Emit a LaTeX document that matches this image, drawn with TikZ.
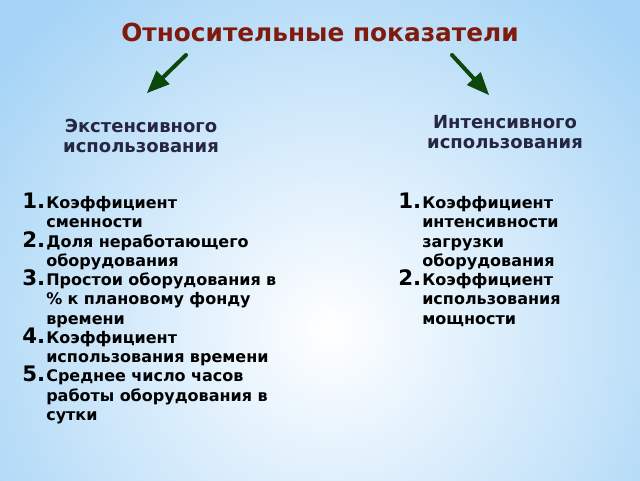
\documentclass[tikz,border=0pt]{standalone}
\usepackage{fontspec}
\setmainfont{DejaVu Sans}
\usetikzlibrary{arrows}
\definecolor{titlered}{RGB}{128,26,12}
\definecolor{headnavy}{RGB}{38,38,66}
\definecolor{arrowgreen}{RGB}{12,72,12}
\definecolor{skyblue}{RGB}{166,212,246}
\newcommand{\numfont}{\fontsize{16}{16}\selectfont}
\newcommand{\itm}[2]{\par\noindent\hangindent=18pt\hangafter=1\makebox[18pt][l]{\smash{\numfont #1.}}#2\par}

\begin{document}
\begin{tikzpicture}[line cap=round,line join=round,>=triangle 45,x=0.75pt,y=-0.75pt,
  heading/.style={text=headnavy,align=center,font=\fontsize{13.5}{15}\selectfont\bfseries},
  listbox/.style={anchor=north west,inner sep=0pt,text width=200pt,align=left,
    font=\fontsize{12}{14.45}\selectfont\bfseries},
  pointer/.style={->,draw=arrowgreen,line width=3pt}]
\useasboundingbox (0,0) rectangle (640,480);
% background
\fill[skyblue] (0,0) rectangle (640,480);
\begin{scope}
\clip (0,0) rectangle (640,480);
\shade[inner color=white,outer color=skyblue] (330,330) circle [radius=420];
\end{scope}
% title and the two groups
\node[text=titlered,font=\fontsize{18.6}{22}\selectfont\bfseries] (title) at (320,32) {Относительные показатели};
\node[heading] (ext) at (141,136) {Экстенсивного\\использования};
\node[heading] (int) at (505,132) {Интенсивного\\использования};
\coordinate (extfrom) at (186,55);
\coordinate (extto) at (147,93);
\coordinate (intfrom) at (452,55);
\coordinate (intto) at (489,95);
\draw[pointer] (extfrom)--(extto);
\draw[pointer] (intfrom)--(intto);
% lists
\node[listbox] (extlist) at (22,189) {\lineskiplimit=-100pt
\itm{1}{Коэффициент\newline сменности}
\itm{2}{Доля неработающего\newline оборудования}
\itm{3}{Простои оборудования в\newline \% к плановому фонду\newline времени}
\itm{4}{Коэффициент\newline использования времени}
\itm{5}{Среднее число часов\newline работы оборудования в\newline сутки}};
\node[listbox] (intlist) at (398,189) {\lineskiplimit=-100pt
\itm{1}{Коэффициент\newline интенсивности\newline загрузки\newline оборудования}
\itm{2}{Коэффициент\newline использования\newline мощности}};
\end{tikzpicture}
\end{document}
